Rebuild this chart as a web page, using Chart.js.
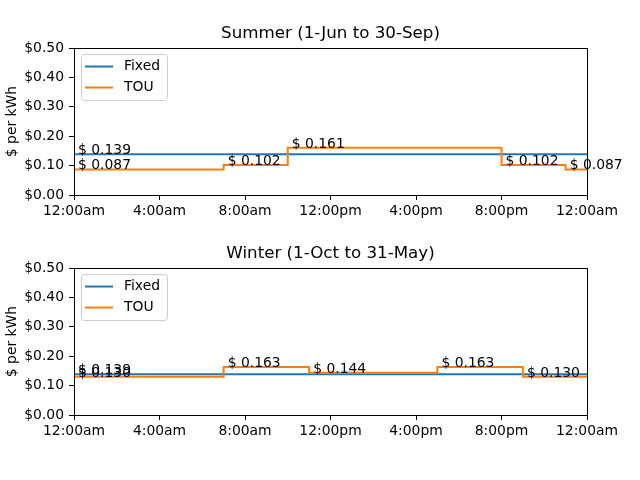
<!DOCTYPE html>
<html>
<head>
<meta charset="utf-8">
<script src="https://cdn.jsdelivr.net/npm/chart.js@4"></script>
<style>
html,body{margin:0;padding:0;background:#fff;}
.wrap{position:absolute;left:0;width:640px;height:240px;}
</style>
</head>
<body>
<div class="wrap" style="top:0"><canvas id="c1" width="640" height="240"></canvas></div>
<div class="wrap" style="top:240px"><canvas id="c2" width="640" height="240"></canvas></div>
<script>
// ---- data ----
const seriesNames = ['Fixed', 'TOU'];
const xTickLabels = ['12:00am', '4:00am', '8:00am', '12:00pm', '4:00pm', '8:00pm', '12:00am'];
const yTickValues = [0.0, 0.1, 0.2, 0.3, 0.4, 0.5];

const summerTitle = 'Summer (1-Jun to 30-Sep)';
const summerFixedStarts = [0];
const summerFixedRates = [0.139];
const summerTouStarts = [0, 7, 10, 20, 23];
const summerTouRates = [0.087, 0.102, 0.161, 0.102, 0.087];

const winterTitle = 'Winter (1-Oct to 31-May)';
const winterFixedStarts = [0];
const winterFixedRates = [0.139];
const winterTouStarts = [0, 7, 11, 17, 21];
const winterTouRates = [0.130, 0.163, 0.144, 0.163, 0.130];

const dayEnd = 24;
const colors = ['#1f77b4', '#ff7f0e'];
const FONT = 'DejaVu Sans';
const FS = 13.9;

Chart.defaults.font.family = FONT;
Chart.defaults.color = '#000';

function stepPoints(starts, rates) {
  const pts = starts.map((s, i) => ({x: s, y: rates[i]}));
  pts.push({x: dayEnd, y: rates[rates.length - 1]});
  return pts;
}

const framePlugin = {
  id: 'frame',
  afterDraw(chart) {
    const {ctx, chartArea: a} = chart;
    const xs = chart.scales.x;
    const ys = chart.scales.y;
    ctx.save();
    // spines
    ctx.strokeStyle = '#000';
    ctx.lineWidth = 1;
    ctx.strokeRect(Math.round(a.left) + 0.5, Math.round(a.top) + 0.5,
      Math.round(a.right - a.left), Math.round(a.bottom - a.top));
    // value labels
    ctx.font = FS + 'px "' + FONT + '"';
    ctx.fillStyle = '#000';
    ctx.textAlign = 'left';
    ctx.textBaseline = 'alphabetic';
    chart.data.datasets.forEach(ds => {
      ds.segStarts.forEach((s, i) => {
        const v = ds.segRates[i];
        ctx.fillText('$ ' + v.toFixed(3), xs.getPixelForValue(s) + 4, ys.getPixelForValue(v));
      });
    });
    // legend
    const lx = a.left + 7, ly = a.top + 6, lw = 86, lh = 46;
    ctx.fillStyle = 'rgba(255,255,255,0.8)';
    ctx.strokeStyle = '#cccccc';
    ctx.beginPath();
    if (ctx.roundRect) ctx.roundRect(lx + 0.5, ly + 0.5, lw, lh, 3); else ctx.rect(lx + 0.5, ly + 0.5, lw, lh);
    ctx.fill();
    ctx.stroke();
    const legendOrder = [...chart.data.datasets].sort((p, q) => p.legendIndex - q.legendIndex);
    legendOrder.forEach((ds, i) => {
      const yy = ly + 12.5 + i * 21;
      ctx.strokeStyle = ds.borderColor;
      ctx.lineWidth = 2;
      ctx.beginPath();
      ctx.moveTo(lx + 4, yy);
      ctx.lineTo(lx + 32, yy);
      ctx.stroke();
      ctx.fillStyle = '#000';
      ctx.textBaseline = 'middle';
      ctx.fillText(ds.label, lx + 43, yy);
    });
    ctx.restore();
  }
};

function makeChart(id, title, fixedStarts, fixedRates, touStarts, touRates, titlePad, xAxisH) {
  return new Chart(document.getElementById(id), {
    type: 'line',
    data: {
      datasets: [
        {label: seriesNames[0], data: stepPoints(fixedStarts, fixedRates), segStarts: fixedStarts, segRates: fixedRates,
         borderColor: colors[0], backgroundColor: colors[0], borderWidth: 2, pointRadius: 0, stepped: 'before', fill: false, order: 1, legendIndex: 0},
        {label: seriesNames[1], data: stepPoints(touStarts, touRates), segStarts: touStarts, segRates: touRates,
         borderColor: colors[1], backgroundColor: colors[1], borderWidth: 2, pointRadius: 0, stepped: 'before', fill: false, order: 0, legendIndex: 1}
      ]
    },
    options: {
      responsive: false,
      animation: false,
      layout: {padding: {left: 0, right: 53, top: 0, bottom: 0}},
      plugins: {
        legend: {display: false},
        tooltip: {enabled: false},
        title: {display: true, fullSize: false, text: title, color: '#000', font: {family: FONT, size: 16.7, weight: 'normal', lineHeight: 1.2}, padding: titlePad}
      },
      scales: {
        x: {
          type: 'linear', min: 0, max: dayEnd,
          afterFit: s => { s.height = xAxisH; },
          afterBuildTicks: s => { s.ticks = xTickLabels.map((_, i) => ({value: i * 4})); },
          ticks: {autoSkip: false, maxRotation: 0, padding: 3, color: '#000', font: {size: FS},
                  callback: v => xTickLabels[Math.round(v / 4)]},
          grid: {drawOnChartArea: false, drawTicks: true, tickLength: 5, color: '#000', lineWidth: 1},
          border: {display: false}
        },
        y: {
          min: 0, max: 0.5,
          afterFit: s => { s.width = 74; },
          afterBuildTicks: s => { s.ticks = yTickValues.map(v => ({value: v})); },
          ticks: {padding: 5, color: '#000', font: {size: FS}, callback: v => '$' + Number(v).toFixed(2)},
          grid: {drawOnChartArea: false, drawTicks: true, tickLength: 5, color: '#000', lineWidth: 1},
          border: {display: false},
          title: {display: true, text: '$ per kWh', color: '#000', font: {size: FS}, padding: {top: 4, bottom: 4}}
        }
      }
    },
    plugins: [framePlugin]
  });
}

makeChart('c1', summerTitle, summerFixedStarts, summerFixedRates, summerTouStarts, summerTouRates, {top: 24, bottom: 4}, 45);
makeChart('c2', winterTitle, winterFixedStarts, winterFixedRates, winterTouStarts, winterTouRates, {top: 4, bottom: 4}, 65);
</script>
</body>
</html>
